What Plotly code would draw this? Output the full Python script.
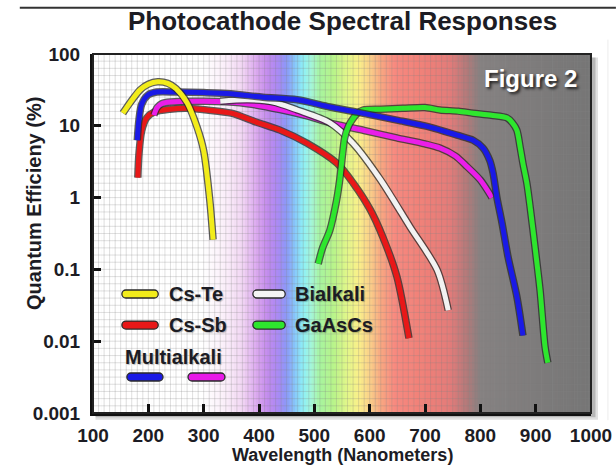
import plotly.graph_objects as go

# ---------------- data ----------------
cs_te_x = [154, 167, 185, 200, 217, 235, 250, 270, 288, 300, 311, 317]
cs_te_y = [15, 21, 31.6, 38, 41, 39, 33, 21, 9.6, 4.5, 0.93, 0.26]

cs_sb_x = [181, 183, 188, 197, 210, 239, 270, 306, 350, 396, 438, 487, 541, 570, 601, 624, 649, 671]
cs_sb_y = [1.9, 4.0, 8.5, 12.9, 15.5, 17, 17.5, 16.6, 15, 11.2, 8.7, 5.7, 3.0, 1.6, 0.68, 0.28, 0.08, 0.011]

multi1_x = [180, 183, 188, 200, 215, 250, 300, 348, 407, 469, 528, 577, 649, 709, 758, 787, 805, 817, 823, 830, 839, 850, 866, 877]
multi1_y = [6.3, 12, 20, 27, 29.5, 29.5, 29, 28, 25, 23, 18.3, 15.5, 12, 9.6, 7.4, 6.3, 4.9, 3.3, 2.2, 1.0, 0.45, 0.15, 0.042, 0.012]

multi2_x = [210, 216, 225, 240, 300, 366, 438, 490, 528, 590, 649, 700, 727, 755, 776, 800, 821]
multi2_y = [14, 18, 20.5, 21.5, 22, 21, 16.8, 13.5, 11, 8.6, 6.8, 5.6, 4.9, 3.8, 2.7, 1.76, 1.0]

bialkali_x = [330, 380, 425, 469, 528, 570, 619, 673, 722, 742]
bialkali_y = [22, 23, 21.5, 16.6, 11, 5.7, 1.8, 0.39, 0.098, 0.027]

gaascs_x = [507, 515, 528, 540, 546, 551, 555, 562, 568, 578, 588, 620, 660, 700, 727, 760, 787, 820, 848, 858, 866, 872, 877, 884, 890, 899, 908, 917, 922]
gaascs_y = [0.12, 0.2, 0.35, 0.9, 1.8, 4, 6.9, 10, 12, 15, 16.6, 17, 17.5, 18, 16.6, 16, 15, 14, 12.9, 11, 8.7, 5, 3.0, 1.6, 0.74, 0.2, 0.051, 0.0083, 0.005]

x_ticks = [100, 200, 300, 400, 500, 600, 700, 800, 900, 1000]
y_ticks = [0.001, 0.01, 0.1, 1, 10, 100]
y_ticktext = ["0.001", "0.01", "0.1", "1", "10", "100"]

legend_names = ["Cs-Te", "Bialkali", "Cs-Sb", "GaAsCs", "Multialkali"]

# ---------------- style ----------------
FONT = "Liberation Sans"
TXT = "#1c1c24"
spectrum_stops = [
    (100, "#ffffff"), (300, "#ffffff"), (340, "#fbeefa"), (370, "#f2d6f4"),
    (395, "#dcaaf0"), (415, "#c48cee"), (435, "#a98af5"), (450, "#8c9af8"),
    (465, "#88c8fa"), (480, "#8ef0f6"), (495, "#a6f6d8"), (510, "#a8f5a0"),
    (535, "#b8f48a"), (560, "#e4f78a"), (580, "#faf08a"), (600, "#fad08a"),
    (620, "#f8a882"), (645, "#f88a80"), (700, "#f08078"), (745, "#e47c7a"),
    (775, "#b47a7a"), (800, "#868282"), (1000, "#767676"),
]


def hex2rgb(h):
    h = h.lstrip("#")
    return tuple(int(h[i:i + 2], 16) for i in (0, 2, 4))


def color_at(w):
    for (a, ca), (b, cb) in zip(spectrum_stops[:-1], spectrum_stops[1:]):
        if a <= w <= b:
            t = (w - a) / (b - a) if b > a else 0
            r1, g1, b1 = hex2rgb(ca)
            r2, g2, b2 = hex2rgb(cb)
            return "rgb(%d,%d,%d)" % (r1 + (r2 - r1) * t, g1 + (g2 - g1) * t, b1 + (b2 - b1) * t)
    return spectrum_stops[-1][1]


shapes = []
# drop shadow of the plot frame
for off, alpha in [(0.014, 0.12), (0.009, 0.18)]:
    shapes.append(dict(type="rect", xref="paper", yref="paper", x0=0.005, x1=1 + off,
                       y0=-off * 1.35, y1=0.99, fillcolor="rgba(0,0,0,%s)" % alpha,
                       line=dict(width=0), layer="below"))
# spectrum background
step = 5
w = 100
while w < 1000:
    shapes.append(dict(type="rect", xref="x", yref="paper", x0=w, x1=min(w + step + 1, 1000),
                       y0=0, y1=1, fillcolor=color_at(w + step / 2), line=dict(width=0), layer="below"))
    w += step
# fine grid
grid_col = "rgba(130,130,130,0.25)"
for gx in range(110, 1000, 10):
    shapes.append(dict(type="line", xref="x", yref="paper", x0=gx, x1=gx, y0=0, y1=1,
                       line=dict(color=grid_col, width=1), layer="below"))
for i in range(1, 50):
    shapes.append(dict(type="line", xref="paper", yref="paper", x0=0, x1=1, y0=i / 50, y1=i / 50,
                       line=dict(color=grid_col, width=1), layer="below"))
# frame
shapes.append(dict(type="rect", xref="paper", yref="paper", x0=0, x1=1, y0=0, y1=1,
                   line=dict(color="#222222", width=2), fillcolor="rgba(0,0,0,0)", layer="above"))
# top rule and faint right rule
shapes.append(dict(type="line", xref="paper", yref="paper", x0=-0.147, x1=1.05, y0=1.1285, y1=1.1285,
                   line=dict(color="#333333", width=2), layer="above"))
shapes.append(dict(type="line", xref="paper", yref="paper", x0=1.034, x1=1.034, y0=-0.02, y1=1.04,
                   line=dict(color="rgba(0,0,0,0.08)", width=1)))


def pill(x0, x1, yc, fill):
    # rounded sample bar in paper coords (plot area 498 x 359 px)
    hx = 1 / 498.0
    hy = 1 / 359.0
    r = 4.0
    ry = r * hy
    rx = r * hx
    k = 0.55
    p = ("M {a},{t} L {b},{t} C {c1},{t} {e},{m1} {e},{yc} C {e},{m2} {c1},{bt} {b},{bt} "
         "L {a},{bt} C {c0},{bt} {s},{m2} {s},{yc} C {s},{m1} {c0},{t} {a},{t} Z").format(
        a=x0 + rx, b=x1 - rx, t=yc + ry, bt=yc - ry, e=x1, s=x0, yc=yc,
        c1=x1 - rx + k * rx, c0=x0 + rx - k * rx, m1=yc + k * ry, m2=yc - k * ry)
    return dict(type="path", xref="paper", yref="paper", path=p, fillcolor=fill,
                line=dict(color="#2a2a2a", width=1.3), layer="above")


shapes += [
    pill(0.058, 0.131, 0.3315, "#f2ec1a"),
    pill(0.321, 0.386, 0.3315, "#f4f4f4"),
    pill(0.058, 0.131, 0.245, "#e81818"),
    pill(0.321, 0.386, 0.245, "#2ee62e"),
    pill(0.068, 0.1406, 0.1003, "#1a1ae6"),
    pill(0.1908, 0.265, 0.1003, "#e81ae8"),
]

fig = go.Figure()
series = [
    (cs_sb_x, cs_sb_y, "#e81818"),
    (multi2_x, multi2_y, "#ea1ee8"),
    (bialkali_x, bialkali_y, "#f2f2f2"),
    (gaascs_x, gaascs_y, "#2ee62e"),
    (multi1_x, multi1_y, "#1a1ae6"),
    (cs_te_x, cs_te_y, "#f2ec1a"),
]
for xs, ys, col in series:
    fig.add_trace(go.Scatter(x=xs, y=ys, mode="lines", showlegend=False, hoverinfo="skip",
                             line=dict(color="rgba(40,40,40,0.75)", width=7.5, shape="spline", smoothing=0.8)))
    fig.add_trace(go.Scatter(x=xs, y=ys, mode="lines", showlegend=False,
                             line=dict(color=col, width=5, shape="spline", smoothing=0.8)))

tick_font = dict(family=FONT, size=19, color=TXT, weight="bold")
fig.update_xaxes(range=[100, 1000], tickvals=x_ticks, ticks="inside", ticklen=9, tickwidth=2.5,
                 tickcolor="#111111", showline=True, linewidth=3, linecolor="#111111",
                 showgrid=False, zeroline=False, tickfont=tick_font, ticklabelstandoff=3,
                 automargin=False)
fig.update_yaxes(type="log", range=[-3, 2], tickvals=y_ticks, ticktext=y_ticktext, ticks="inside",
                 ticklen=8, tickwidth=2.5, tickcolor="#111111", showline=True, linewidth=3,
                 linecolor="#111111", showgrid=False, zeroline=False, tickfont=tick_font,
                 ticklabelstandoff=6, automargin=False)

ann = [
    dict(text="Photocathode Spectral Responses", x=0.5, y=1.0925, xref="paper", yref="paper",
         showarrow=False, xanchor="center", yanchor="middle",
         font=dict(family=FONT, size=26, color=TXT, weight="bold")),
    dict(text="Figure 2", x=0.8795, y=0.933, xref="paper", yref="paper", showarrow=False,
         xanchor="center", yanchor="middle",
         font=dict(family=FONT, size=24, color="white", weight="bold",
                   shadow="2px 2px 3px rgba(0,0,0,0.75)")),
    dict(text="Quantum Efficieny (%)", x=-0.1185, y=0.585, xref="paper", yref="paper",
         showarrow=False, textangle=-90, xanchor="center", yanchor="middle",
         font=dict(family=FONT, size=20, color=TXT, weight="bold")),
    dict(text="Wavelength (Nanometers)", x=0.5, y=-0.117, xref="paper", yref="paper",
         showarrow=False, xanchor="center", yanchor="middle",
         font=dict(family=FONT, size=18, color=TXT, weight="bold")),
]
leg_font = dict(family=FONT, size=20, color=TXT, weight="bold", shadow="1px 1px 1px rgba(0,0,0,0.25)")
leg_pos = [(0.1486, 0.3315), (0.4016, 0.3315), (0.1486, 0.245), (0.4016, 0.245), (0.0602, 0.156)]
for name, (lx, ly) in zip(legend_names, leg_pos):
    ann.append(dict(text=name, x=lx, y=ly, xref="paper", yref="paper", showarrow=False,
                    xanchor="left", yanchor="middle", font=leg_font))

fig.update_layout(
    width=616, height=471,
    margin=dict(l=93, r=25, t=54, b=58),
    paper_bgcolor="white", plot_bgcolor="white",
    shapes=shapes, annotations=ann, showlegend=False,
)
# remove the browser's default 8px body margin so the figure fills the window exactly
fig.write_html("out.html", config={"displayModeBar": False},
               post_script="document.body.style.margin='0px';document.body.style.overflow='hidden';")
